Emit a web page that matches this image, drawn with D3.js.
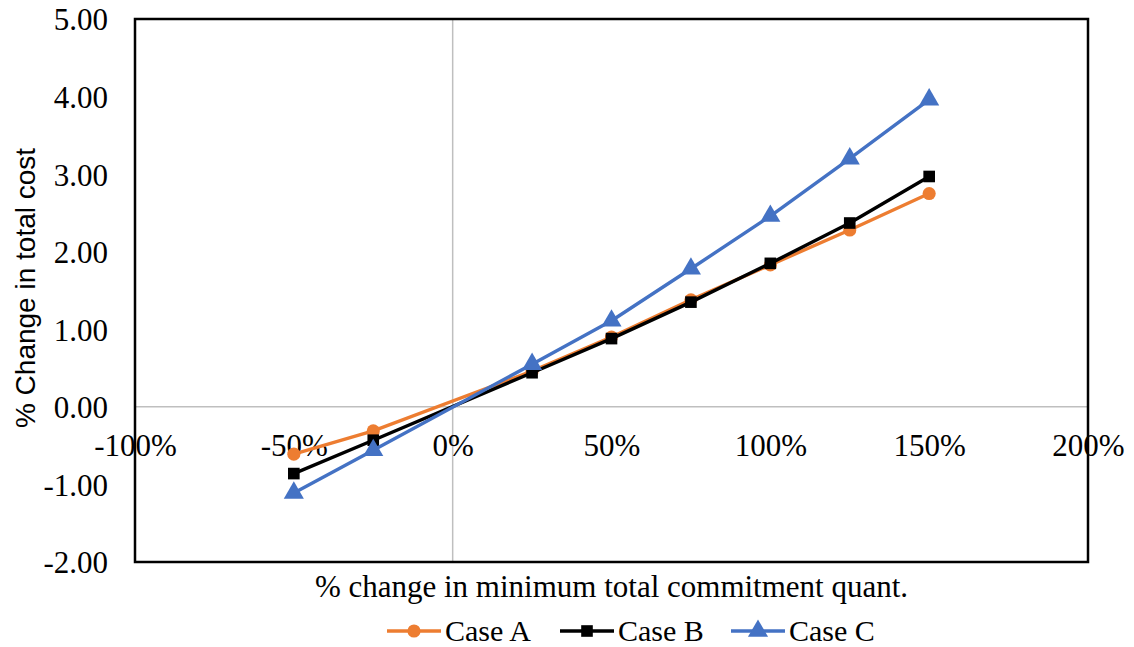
<!DOCTYPE html>
<html>
<head>
<meta charset="utf-8">
<script src="https://cdn.jsdelivr.net/npm/d3@7"></script>
<style>
  html, body { margin: 0; padding: 0; background: #ffffff; }
  svg { display: block; }
</style>
</head>
<body>
<svg id="chart" width="1134" height="647"></svg>
<script>
// Sensitivity of total cost to the minimum total commitment quantity
const xValues = [-0.50, -0.25, 0.25, 0.50, 0.75, 1.00, 1.25, 1.50];
const caseA = [-0.61, -0.31, 0.46, 0.90, 1.38, 1.83, 2.28, 2.75];
const caseB = [-0.86, -0.43, 0.44, 0.88, 1.35, 1.85, 2.37, 2.97];
const caseC = [-1.11, -0.56, 0.55, 1.11, 1.78, 2.46, 3.20, 3.96];
const seriesNames = ["Case A", "Case B", "Case C"];
const xTicks = [-1.00, -0.50, 0.00, 0.50, 1.00, 1.50, 2.00];
const yTicks = [-2, -1, 0, 1, 2, 3, 4, 5];

const colors = ["#ED7D31", "#000000", "#4472C4"];
const symbols = [d3.symbolCircle, d3.symbolSquare, d3.symbolTriangle];
const symbolSizes = [135, 135, 175];

const svg = d3.select("#chart");
const plot = { left: 135, right: 1088, top: 19, bottom: 562 };

const x = d3.scaleLinear().domain([-1, 2]).range([plot.left, plot.right]);
const y = d3.scaleLinear().domain([-2, 5]).range([plot.bottom, plot.top]);

const serif = "'Liberation Serif', 'Times New Roman', serif";
const sans = "'Liberation Sans', Arial, sans-serif";

// zero reference lines
svg.append("line")
  .attr("x1", plot.left).attr("x2", plot.right)
  .attr("y1", y(0)).attr("y2", y(0))
  .attr("stroke", "#BFBFBF").attr("stroke-width", 1.5);
svg.append("line")
  .attr("x1", x(0)).attr("x2", x(0))
  .attr("y1", plot.top).attr("y2", plot.bottom)
  .attr("stroke", "#BFBFBF").attr("stroke-width", 1.5);

// y axis labels
const yAxis = svg.append("g")
  .attr("transform", `translate(${plot.left},0)`)
  .call(d3.axisLeft(y).tickValues(yTicks).tickSize(0).tickPadding(27)
    .tickFormat(d => d.toFixed(2)));
yAxis.select(".domain").remove();
yAxis.selectAll("text")
  .attr("font-family", serif).attr("font-size", 31).attr("fill", "#000")
  .attr("dy", "0.35em");

// x axis labels sit just under the zero line
const xAxis = svg.append("g")
  .attr("transform", `translate(0,${y(0)})`)
  .call(d3.axisBottom(x).tickValues(xTicks).tickSize(0).tickPadding(27)
    .tickFormat(d => `${Math.round(d * 100)}%`));
xAxis.select(".domain").remove();
xAxis.selectAll("text")
  .attr("font-family", serif).attr("font-size", 31).attr("fill", "#000")
  .attr("dy", "0.71em");

// plot area frame
svg.append("rect")
  .attr("x", plot.left).attr("y", plot.top)
  .attr("width", plot.right - plot.left).attr("height", plot.bottom - plot.top)
  .attr("fill", "none").attr("stroke", "#000").attr("stroke-width", 2.5);

// series
const allSeries = [caseA, caseB, caseC];
const line = d3.line().x(d => x(d[0])).y(d => y(d[1]));

allSeries.forEach((vals, i) => {
  const pts = xValues.map((xv, j) => [xv, vals[j]]);
  svg.append("path")
    .datum(pts)
    .attr("d", line)
    .attr("fill", "none")
    .attr("stroke", colors[i])
    .attr("stroke-width", 3.4)
    .attr("stroke-linejoin", "round");
  svg.append("g").selectAll("path")
    .data(pts)
    .join("path")
    .attr("transform", d => `translate(${x(d[0])},${y(d[1])})`)
    .attr("d", d3.symbol().type(symbols[i]).size(symbolSizes[i]))
    .attr("fill", colors[i]);
});

// axis titles
svg.append("text")
  .attr("x", (plot.left + plot.right) / 2).attr("y", 597)
  .attr("text-anchor", "middle")
  .attr("font-family", serif).attr("font-size", 31).attr("fill", "#000")
  .text("% change in minimum total commitment quant.");

svg.append("text")
  .attr("transform", "translate(25,288) rotate(-90)")
  .attr("text-anchor", "middle").attr("dominant-baseline", "central")
  .attr("font-family", sans).attr("font-size", 28).attr("fill", "#000")
  .text("% Change in total cost");

// legend
const legendItems = [
  { x0: 387, name: seriesNames[0] },
  { x0: 560, name: seriesNames[1] },
  { x0: 731, name: seriesNames[2] }
];
const legendY = 631;
legendItems.forEach((item, i) => {
  const g = svg.append("g").attr("transform", `translate(${item.x0},${legendY})`);
  g.append("line")
    .attr("x1", 0).attr("x2", 54).attr("y1", 0).attr("y2", 0)
    .attr("stroke", colors[i]).attr("stroke-width", 3.4);
  g.append("path")
    .attr("transform", "translate(27,0)")
    .attr("d", d3.symbol().type(symbols[i]).size(symbolSizes[i]))
    .attr("fill", colors[i]);
  g.append("text")
    .attr("x", 58).attr("y", 0).attr("dy", "0.33em")
    .attr("font-family", serif).attr("font-size", 30).attr("fill", "#000")
    .text(item.name);
});
</script>
</body>
</html>
